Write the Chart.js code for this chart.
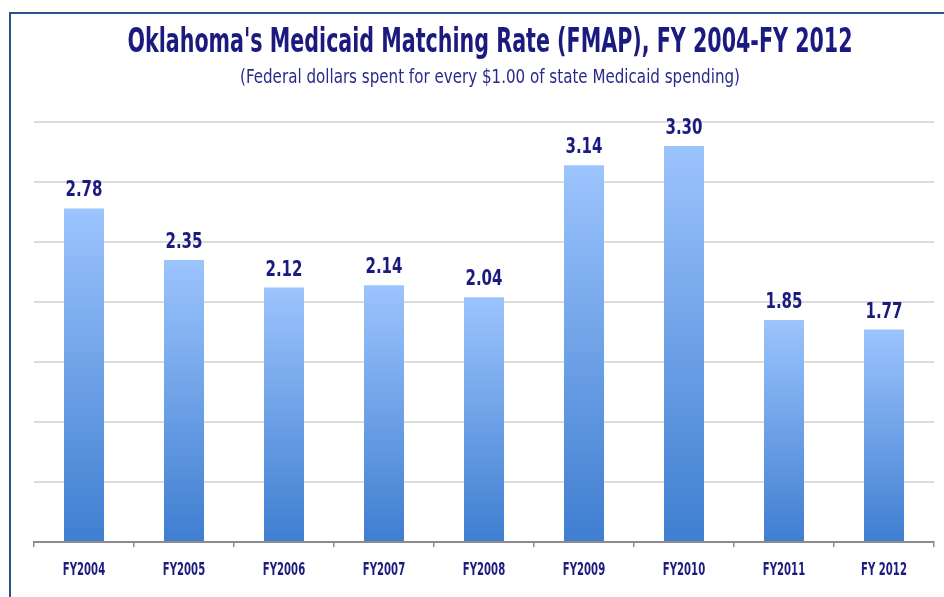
<!DOCTYPE html>
<html>
<head>
<meta charset="utf-8">
<script src="https://cdn.jsdelivr.net/npm/chart.js@4/dist/chart.umd.min.js"></script>
<style>
  html, body { margin: 0; padding: 0; background: #ffffff; }
  #wrap { position: relative; width: 944px; height: 597px; }
</style>
</head>
<body>
<div id="wrap"><canvas id="c" width="944" height="597"></canvas></div>
<script>
const titleText = "Oklahoma's Medicaid Matching Rate (FMAP), FY 2004-FY 2012";
const subtitleText = "(Federal dollars spent for every $1.00 of state Medicaid spending)";
const categories = ["FY2004", "FY2005", "FY2006", "FY2007", "FY2008", "FY2009", "FY2010", "FY2011", "FY 2012"];
const fmapRatio = [2.78, 2.35, 2.12, 2.14, 2.04, 3.14, 3.30, 1.85, 1.77];
const yMax = 3.5;
const yStep = 0.5;

const FONT = "'Liberation Sans Narrow', 'DejaVu Sans Condensed', 'Arial Narrow', sans-serif";
const NAVY = '#1b1b7f';

function drawCondensed(ctx, text, x, y, font, color, sx) {
  ctx.save();
  ctx.font = font;
  ctx.fillStyle = color;
  ctx.textAlign = 'center';
  ctx.textBaseline = 'alphabetic';
  ctx.translate(x, y);
  ctx.scale(sx, 1);
  ctx.fillText(text, 0, 0);
  ctx.restore();
}

const frame = {
  id: 'frame',
  beforeDraw(chart) {
    const ctx = chart.ctx;
    ctx.save();
    ctx.strokeStyle = '#2c5289';
    ctx.lineWidth = 2;
    ctx.beginPath();
    ctx.moveTo(10, 597);
    ctx.lineTo(10, 13);
    ctx.lineTo(944, 13);
    ctx.stroke();
    ctx.restore();
  }
};

const texts = {
  id: 'texts',
  afterDraw(chart) {
    const ctx = chart.ctx;
    // title and subtitle
    drawCondensed(ctx, titleText, 490, 52, "bold 33px " + FONT, NAVY, 0.695);
    drawCondensed(ctx, subtitleText, 490, 83, "20px " + FONT, '#2a2a8c', 0.84);
    // value labels above bars
    const meta = chart.getDatasetMeta(0);
    meta.data.forEach((bar, i) => {
      drawCondensed(ctx, fmapRatio[i].toFixed(2), bar.x, bar.y - 12, "bold 22px " + FONT, NAVY, 0.76);
    });
    // category labels under the axis
    const xs = chart.scales.x;
    categories.forEach((c, i) => {
      drawCondensed(ctx, c, xs.getPixelForValue(i), 575, "bold 17px " + FONT, NAVY, 0.66);
    });
  }
};

new Chart(document.getElementById('c'), {
  type: 'bar',
  data: {
    labels: categories,
    datasets: [{
      data: fmapRatio,
      barPercentage: 0.4,
      categoryPercentage: 1.0,
      borderWidth: 0,
      backgroundColor(context) {
        const chart = context.chart;
        const { ctx, chartArea, scales } = chart;
        if (!chartArea || !scales.y) return '#6a9fe6';
        const v = context.raw;
        const top = scales.y.getPixelForValue(v);
        const bottom = scales.y.getPixelForValue(0);
        if (!isFinite(top) || !isFinite(bottom) || top === bottom) return '#6a9fe6';
        const g = ctx.createLinearGradient(0, top, 0, bottom);
        g.addColorStop(0, '#9cc4fd');
        g.addColorStop(1, '#3f7ed0');
        return g;
      }
    }]
  },
  options: {
    responsive: false,
    animation: false,
    layout: { padding: { left: 34, right: 10, top: 122, bottom: 50 } },
    plugins: {
      legend: { display: false },
      tooltip: { enabled: false },
      title: { display: false },
      subtitle: { display: false }
    },
    scales: {
      x: {
        grid: {
          offset: true,
          drawOnChartArea: false,
          drawTicks: true,
          tickLength: 5,
          color: '#8c8c8c',
          lineWidth: 1.5
        },
        border: { display: true, color: '#8c8c8c', width: 2 },
        ticks: { display: false, autoSkip: false }
      },
      y: {
        min: 0,
        max: yMax,
        ticks: { display: false, stepSize: yStep },
        border: { display: false },
        grid: { color: '#dcdcdc', lineWidth: 2, drawTicks: false }
      }
    }
  },
  plugins: [frame, texts]
});
</script>
</body>
</html>
